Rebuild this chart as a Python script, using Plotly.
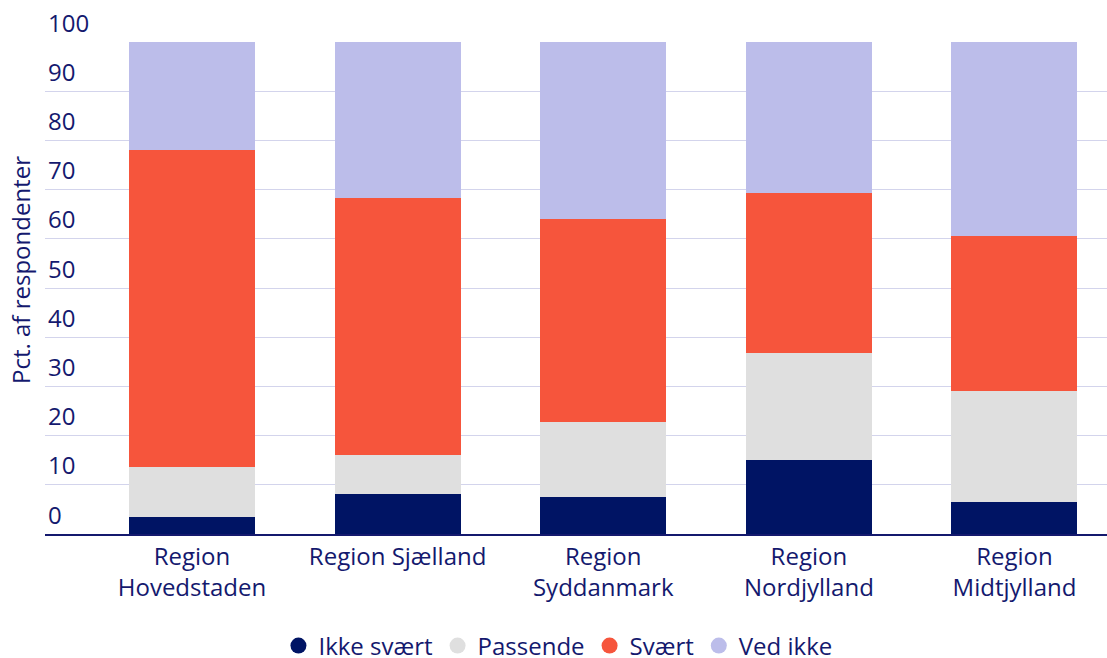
import plotly.graph_objects as go

categories = ["Region<br>Hovedstaden", "Region Sjælland", "Region<br>Syddanmark",
              "Region<br>Nordjylland", "Region<br>Midtjylland"]
ikke_svaert = [3.4, 8.1, 7.5, 15.0, 6.6]
passende = [10.2, 7.9, 15.2, 21.8, 22.5]
svaert = [64.4, 52.2, 41.3, 32.5, 31.5]
ved_ikke = [22.0, 31.8, 36.0, 30.7, 39.4]

series = [
    ("Ikke svært", ikke_svaert, "#001464"),
    ("Passende", passende, "#dfdfdf"),
    ("Svært", svaert, "#f6553c"),
    ("Ved ikke", ved_ikke, "#bcbdea"),
]

TXT = "#14196e"
FONT = "Open Sans"
FS = 24

fig = go.Figure()
for name, vals, col in series:
    fig.add_trace(go.Bar(x=categories, y=vals, name=name, marker_color=col,
                         marker_line_width=0, showlegend=False))
# legend entries with circle symbols
for name, vals, col in series:
    fig.add_trace(go.Scatter(x=[None], y=[None], mode="markers", name=name,
                             marker=dict(symbol="circle", size=17, color=col)))

PLOT_H = 658 - 42 - 124

fig.update_layout(
    barmode="stack",
    bargap=0.387,
    width=1107, height=658,
    margin=dict(l=45, r=0, t=42, b=124, autoexpand=False),
    plot_bgcolor="white", paper_bgcolor="white",
    font=dict(family=FONT, size=FS, color=TXT),
    legend=dict(orientation="h", x=0.483, xanchor="center",
                yref="container", y=(658 - 646) / 658, yanchor="middle",
                font=dict(size=FS, color=TXT), itemwidth=30, traceorder="normal"),
    xaxis=dict(range=[-0.715, 4.45], showgrid=False, showline=True, linecolor=TXT,
               linewidth=2, ticks="", tickfont=dict(size=FS, color=TXT), automargin=False),
    yaxis=dict(range=[0, 100], dtick=10, gridcolor="#d3d4ec",
               gridwidth=1, zeroline=False, showline=False, ticklabelposition="inside top",
               ticklabeloverflow="allow", ticklabelshift=-2,
               tickfont=dict(size=FS, color=TXT), automargin=False),
    annotations=[dict(text="Pct. af respondenter", xref="paper", yref="paper",
                      x=(20 - 45) / 1062, xanchor="center", y=(534 - 270) / PLOT_H,
                      yanchor="middle", textangle=-90, showarrow=False,
                      font=dict(size=FS, color=TXT))],
)

fig.write_html("out.html")
